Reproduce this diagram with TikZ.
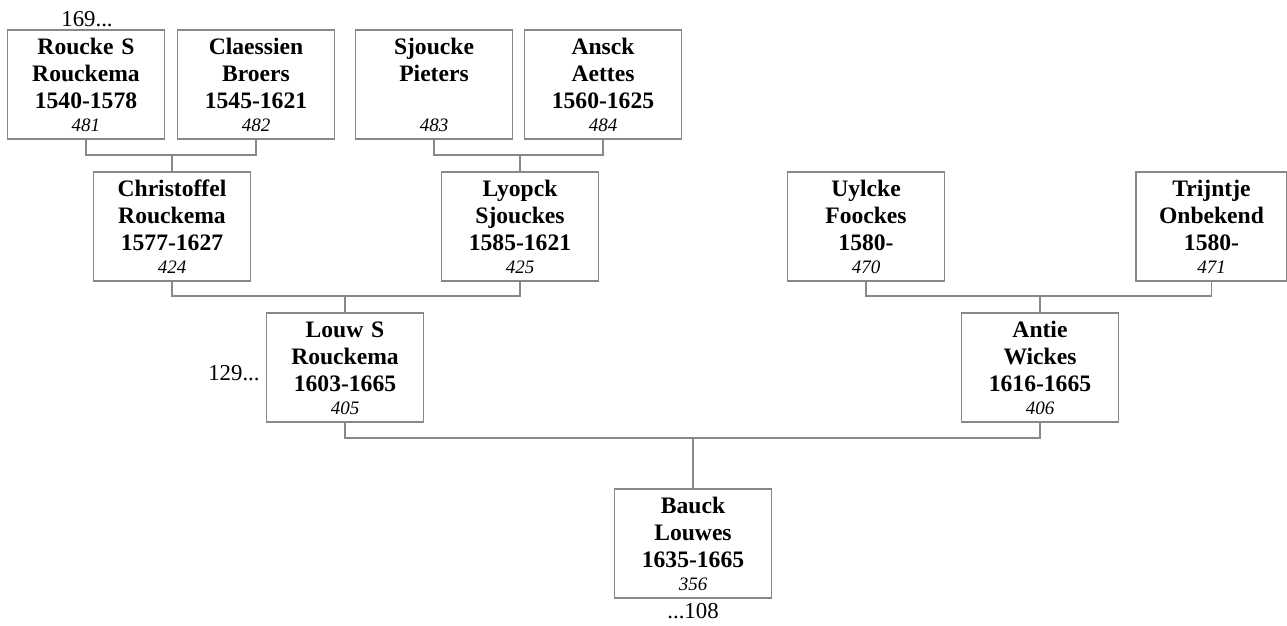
\documentclass[tikz,border=0pt]{standalone}
\usepackage{fontspec}
\setmainfont{Liberation Serif}
\definecolor{linegray}{RGB}{136,136,136}
\newcommand\prs[4]{\rule{0pt}{11.4pt}#1\\#2\\#3\\[-2pt]{\mdseries\itshape\fontsize{9.5}{11}\selectfont\strut#4}}
\begin{document}
\begin{tikzpicture}[x=0.5pt,y=-0.5pt,
  person/.style={draw=linegray, line width=0.6pt, minimum width=78.5pt, minimum height=54.5pt,
    inner sep=0pt, align=center, text width=76pt, font=\fontsize{11.8}{13.5}\selectfont\bfseries},
  narrow/.style={minimum width=75.5pt, text width=73pt},
  link/.style={draw=linegray, line width=0.6pt},
  note/.style={inner sep=0pt, font=\fontsize{11.4}{13}\selectfont}]
\useasboundingbox (0,0) rectangle (1287,626);
% row 1
\node[person] (p481) at (86,84.5) {\prs{Roucke S}{Rouckema}{1540-1578}{481}};
\node[person] (p482) at (256,84.5) {\prs{Claessien}{Broers}{1545-1621}{482}};
\node[person] (p483) at (434,84.5) {\prs{Sjoucke}{Pieters}{\mbox{}}{483}};
\node[person] (p484) at (603,84.5) {\prs{Ansck}{Aettes}{1560-1625}{484}};
% row 2
\node[person] (p424) at (172,226.5) {\prs{Christoffel}{Rouckema}{1577-1627}{424}};
\node[person] (p425) at (520,226.5) {\prs{Lyopck}{Sjouckes}{1585-1621}{425}};
\node[person] (p470) at (866,226.5) {\prs{Uylcke}{Foockes}{1580-}{470}};
\node[person,narrow] (p471) at (1211.5,226.5) {\prs{Trijntje}{Onbekend}{1580-}{471}};
% row 3
\node[person] (p405) at (345,367.5) {\prs{Louw S}{Rouckema}{1603-1665}{405}};
\node[person] (p406) at (1040,367.5) {\prs{Antie}{Wickes}{1616-1665}{406}};
% row 4
\node[person] (p356) at (693,543.5) {\prs{Bauck}{Louwes}{1635-1665}{356}};
% notes
\node[note] (n169) at (87,19) {169...};
\node[note, anchor=east] (n129) at (260,373) {129...};
\node[note] (n108) at (693,611) {...108};
% junctions
\coordinate (j1) at (172,155);
\coordinate (j2) at (520,155);
\coordinate (j3) at (345,296);
\coordinate (j4) at (1040,296);
\coordinate (j5) at (693,438);
% connectors
\draw[link] (p481.south) |- (j1) -| (p482.south);
\draw[link] (j1) -- (p424.north);
\draw[link] (p483.south) |- (j2) -| (p484.south);
\draw[link] (j2) -- (p425.north);
\draw[link] (p424.south) |- (j3) -| (p425.south);
\draw[link] (j3) -- (p405.north);
\draw[link] (p470.south) |- (j4) -| (p471.south);
\draw[link] (j4) -- (p406.north);
\draw[link] (p405.south) |- (j5) -| (p406.south);
\draw[link] (j5) -- (p356.north);
\end{tikzpicture}
\end{document}
